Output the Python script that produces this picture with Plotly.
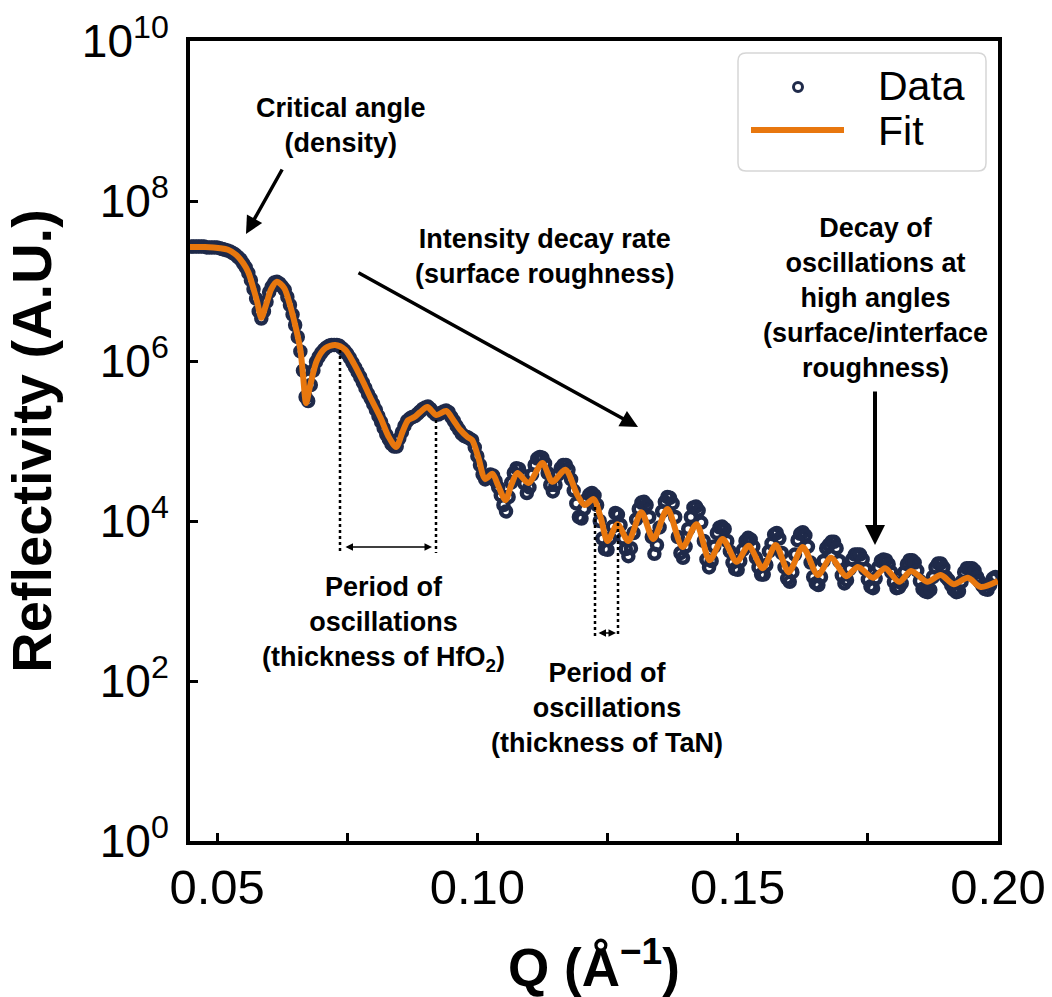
import plotly.graph_objects as go

# ---------------- data ----------------
data_q = [
    0.0450, 0.0455, 0.0460, 0.0465, 0.0470, 0.0475, 0.0480, 0.0485, 0.0490, 0.0495,
    0.0500, 0.0505, 0.0510, 0.0515, 0.0520, 0.0525, 0.0530, 0.0535, 0.0540, 0.0545,
    0.0550, 0.0555, 0.0560, 0.0565, 0.0570, 0.0575, 0.0580, 0.0585, 0.0590, 0.0595,
    0.0600, 0.0605, 0.0610, 0.0615, 0.0620, 0.0625, 0.0630, 0.0635, 0.0640, 0.0645,
    0.0650, 0.0655, 0.0660, 0.0665, 0.0670, 0.0675, 0.0680, 0.0685, 0.0690, 0.0695,
    0.0700, 0.0705, 0.0710, 0.0715, 0.0720, 0.0725, 0.0730, 0.0735, 0.0740, 0.0745,
    0.0750, 0.0755, 0.0760, 0.0765, 0.0770, 0.0775, 0.0780, 0.0785, 0.0790, 0.0795,
    0.0800, 0.0805, 0.0810, 0.0815, 0.0820, 0.0825, 0.0830, 0.0835, 0.0840, 0.0845,
    0.0850, 0.0855, 0.0860, 0.0865, 0.0870, 0.0875, 0.0880, 0.0885, 0.0890, 0.0895,
    0.0900, 0.0905, 0.0910, 0.0915, 0.0920, 0.0925, 0.0930, 0.0935, 0.0940, 0.0945,
    0.0950, 0.0955, 0.0960, 0.0965, 0.0970, 0.0975, 0.0980, 0.0985, 0.0990, 0.0995,
    0.1000, 0.1005, 0.1010, 0.1015, 0.1020, 0.1025, 0.1030, 0.1035, 0.1040, 0.1045,
    0.1050, 0.1055, 0.1060, 0.1065, 0.1070, 0.1075, 0.1080, 0.1085, 0.1090, 0.1095,
    0.1100, 0.1105, 0.1110, 0.1115, 0.1120, 0.1125, 0.1130, 0.1135, 0.1140, 0.1145,
    0.1150, 0.1155, 0.1160, 0.1165, 0.1170, 0.1175, 0.1180, 0.1185, 0.1190, 0.1195,
    0.1200, 0.1205, 0.1210, 0.1215, 0.1220, 0.1225, 0.1230, 0.1235, 0.1240, 0.1245,
    0.1250, 0.1255, 0.1260, 0.1265, 0.1270, 0.1275, 0.1280, 0.1285, 0.1290, 0.1295,
    0.1300, 0.1305, 0.1310, 0.1315, 0.1320, 0.1325, 0.1330, 0.1335, 0.1340, 0.1345,
    0.1350, 0.1355, 0.1360, 0.1365, 0.1370, 0.1375, 0.1380, 0.1385, 0.1390, 0.1395,
    0.1400, 0.1405, 0.1410, 0.1415, 0.1420, 0.1425, 0.1430, 0.1435, 0.1440, 0.1445,
    0.1450, 0.1455, 0.1460, 0.1465, 0.1470, 0.1475, 0.1480, 0.1485, 0.1490, 0.1495,
    0.1500, 0.1505, 0.1510, 0.1515, 0.1520, 0.1525, 0.1530, 0.1535, 0.1540, 0.1545,
    0.1550, 0.1555, 0.1560, 0.1565, 0.1570, 0.1575, 0.1580, 0.1585, 0.1590, 0.1595,
    0.1600, 0.1605, 0.1610, 0.1615, 0.1620, 0.1625, 0.1630, 0.1635, 0.1640, 0.1645,
    0.1650, 0.1655, 0.1660, 0.1665, 0.1670, 0.1675, 0.1680, 0.1685, 0.1690, 0.1695,
    0.1700, 0.1705, 0.1710, 0.1715, 0.1720, 0.1725, 0.1730, 0.1735, 0.1740, 0.1745,
    0.1750, 0.1755, 0.1760, 0.1765, 0.1770, 0.1775, 0.1780, 0.1785, 0.1790, 0.1795,
    0.1800, 0.1805, 0.1810, 0.1815, 0.1820, 0.1825, 0.1830, 0.1835, 0.1840, 0.1845,
    0.1850, 0.1855, 0.1860, 0.1865, 0.1870, 0.1875, 0.1880, 0.1885, 0.1890, 0.1895,
    0.1900, 0.1905, 0.1910, 0.1915, 0.1920, 0.1925, 0.1930, 0.1935, 0.1940, 0.1945,
    0.1950, 0.1955, 0.1960, 0.1965, 0.1970, 0.1975, 0.1980, 0.1985, 0.1990, 0.1995,
]

# log10 of measured reflectivity
data_log_r = [
    7.43, 7.43, 7.43, 7.43, 7.43, 7.43, 7.42, 7.42, 7.42, 7.42,
    7.42, 7.41, 7.40, 7.39, 7.38, 7.37, 7.35, 7.33, 7.30, 7.27,
    7.22, 7.17, 7.10, 7.01, 6.90, 6.78, 6.62, 6.53, 6.62, 6.74,
    6.86, 6.93, 6.98, 6.99, 6.97, 6.93, 6.89, 6.80, 6.70, 6.58,
    6.45, 6.30, 6.12, 5.88, 5.55, 5.50, 5.70, 5.88, 5.99, 6.05,
    6.10, 6.14, 6.17, 6.19, 6.20, 6.20, 6.20, 6.19, 6.16, 6.13,
    6.09, 6.04, 5.98, 5.92, 5.86, 5.80, 5.73, 5.66, 5.59, 5.53,
    5.46, 5.39, 5.31, 5.24, 5.16, 5.08, 5.02, 4.96, 4.93, 4.93,
    5.03, 5.11, 5.19, 5.25, 5.28, 5.30, 5.31, 5.34, 5.37, 5.40,
    5.42, 5.43, 5.40, 5.36, 5.33, 5.33, 5.35, 5.37, 5.38, 5.36,
    5.30, 5.25, 5.19, 5.14, 5.09, 5.06, 5.05, 5.03, 5.01, 4.92,
    4.81, 4.70, 4.58, 4.52, 4.56, 4.58, 4.57, 4.50, 4.42, 4.32,
    4.20, 4.12, 4.30, 4.48, 4.60, 4.66, 4.65, 4.58, 4.47, 4.35,
    4.42, 4.58, 4.70, 4.78, 4.80, 4.79, 4.72, 4.60, 4.45, 4.37,
    4.45, 4.58, 4.66, 4.70, 4.70, 4.64, 4.52, 4.38, 4.22, 4.05,
    4.03, 4.15, 4.27, 4.33, 4.35, 4.32, 4.20, 4.00, 3.78, 3.65,
    3.64, 3.78, 3.93, 4.10, 4.08, 3.95, 3.78, 3.65, 3.56, 3.66,
    3.85, 4.02, 4.15, 4.23, 4.24, 4.20, 4.05, 3.80, 3.59, 3.70,
    3.92, 4.12, 4.24, 4.30, 4.29, 4.22, 4.05, 3.80, 3.60, 3.54,
    3.68, 3.90, 4.05, 4.17, 4.18, 4.13, 3.98, 3.75, 3.52, 3.42,
    3.50, 3.68, 3.85, 3.92, 3.93, 3.90, 3.75, 3.62, 3.48, 3.40,
    3.39, 3.50, 3.64, 3.75, 3.79, 3.77, 3.68, 3.54, 3.42, 3.33,
    3.33, 3.45, 3.62, 3.72, 3.83, 3.85, 3.78, 3.60, 3.42, 3.28,
    3.24, 3.36, 3.58, 3.76, 3.84, 3.86, 3.82, 3.68, 3.48, 3.30,
    3.22, 3.20, 3.30, 3.50, 3.66, 3.70, 3.74, 3.74, 3.66, 3.50,
    3.32, 3.22, 3.26, 3.40, 3.52, 3.58, 3.58, 3.58, 3.52, 3.40,
    3.27, 3.18, 3.16, 3.28, 3.42, 3.50, 3.52, 3.51, 3.46, 3.36,
    3.24, 3.16, 3.17, 3.22, 3.36, 3.46, 3.51, 3.51, 3.48, 3.38,
    3.25, 3.15, 3.12, 3.11, 3.14, 3.30, 3.42, 3.47, 3.47, 3.42,
    3.30, 3.26, 3.20, 3.14, 3.11, 3.12, 3.24, 3.36, 3.41, 3.41,
    3.41, 3.38, 3.30, 3.24, 3.19, 3.15, 3.14, 3.20, 3.28, 3.30,
]

fit_q = [
    0.0448, 0.0477, 0.0506, 0.0521, 0.0537, 0.0550, 0.0560, 0.0569, 0.0577, 0.0585,
    0.0594, 0.0604, 0.0615, 0.0629, 0.0640, 0.0650, 0.0660, 0.0665, 0.0671, 0.0679,
    0.0692, 0.0708, 0.0727, 0.0746, 0.0762, 0.0779, 0.0794, 0.0814, 0.0829, 0.0844,
    0.0856, 0.0867, 0.0879, 0.0890, 0.0904, 0.0921, 0.0940, 0.0954, 0.0967, 0.0981,
    0.0990, 0.1002, 0.1015, 0.1029, 0.1040, 0.1054, 0.1065, 0.1077, 0.1098, 0.1125,
    0.1144, 0.1169, 0.1192, 0.1206, 0.1223, 0.1237, 0.1250, 0.1269, 0.1290, 0.1315,
    0.1338, 0.1365, 0.1394, 0.1421, 0.1446, 0.1471, 0.1498, 0.1521, 0.1548, 0.1573,
    0.1598, 0.1625, 0.1654, 0.1679, 0.1708, 0.1731, 0.1760, 0.1783, 0.1810, 0.1833,
    0.1864, 0.1890, 0.1915, 0.1942, 0.1967, 0.2000,
]
fit_log_r = [
    7.425, 7.425, 7.41, 7.39, 7.325, 7.225, 7.11, 6.925, 6.74, 6.54,
    6.70, 6.90, 6.99, 6.91, 6.70, 6.45, 6.14, 5.83, 5.475, 5.70,
    6.01, 6.16, 6.20, 6.14, 5.975, 5.76, 5.55, 5.29, 5.06, 4.925,
    5.11, 5.26, 5.30, 5.36, 5.425, 5.325, 5.375, 5.26, 5.14, 5.05,
    5.01, 4.79, 4.525, 4.59, 4.44, 4.26, 4.45, 4.60, 4.475, 4.725,
    4.49, 4.64, 4.325, 4.20, 4.275, 4.04, 3.75, 3.96, 3.75, 4.11,
    3.775, 4.15, 3.675, 3.96, 3.51, 3.775, 3.49, 3.69, 3.41, 3.70,
    3.36, 3.675, 3.325, 3.54, 3.31, 3.425, 3.29, 3.41, 3.24, 3.375,
    3.24, 3.325, 3.21, 3.29, 3.175, 3.25,
]

y_tick_vals = [1e0, 1e2, 1e4, 1e6, 1e8, 1e10]
y_tick_text = ["10<sup>0</sup>", "10<sup>2</sup>", "10<sup>4</sup>",
               "10<sup>6</sup>", "10<sup>8</sup>", "10<sup>10</sup>"]
x_tick_vals = [0.05, 0.10, 0.15, 0.20]
x_tick_text = ["0.05", "0.10", "0.15", "0.20"]

assert len(data_q) == len(data_log_r)
assert len(fit_q) == len(fit_log_r)

data_r = [10 ** v for v in data_log_r]
fit_r = [10 ** v for v in fit_log_r]

NAVY = "#1F2A4A"
ORANGE = "#E8770E"
FONT = "Liberation Sans, Arial, sans-serif"

# ---------------- figure ----------------
W, H = 1052, 997
L, R, T, B = 190, 54, 41, 156
PW, PH = W - L - R, H - T - B


def px(x):
    return (x - L) / PW


def py(y):
    return (H - B - y) / PH


fig = go.Figure()
fig.add_trace(go.Scatter(
    x=data_q, y=data_r, mode="markers", name="Data",
    marker=dict(symbol="circle-open", size=10, color=NAVY,
                line=dict(width=4.5, color=NAVY)),
))
fig.add_trace(go.Scatter(
    x=fit_q, y=fit_r, mode="lines", name="Fit",
    line=dict(color=ORANGE, width=6, shape="spline", smoothing=0.8),
))

shapes = []
annotations = []

# dotted guide lines
for (x, y0, y1) in [(340, 350, 553), (436, 420, 553), (595, 507, 637), (618, 523, 637)]:
    shapes.append(dict(type="line", xref="paper", yref="paper",
                       x0=px(x), x1=px(x), y0=py(y0), y1=py(y1),
                       line=dict(color="black", width=2.5, dash="dot")))

# manual legend
lx0, lx1, ly_top, ly_bot = px(738), px(986), py(53), py(171)
rx, ry = 8 / PW, 8 / PH
path = (f"M {lx0+rx},{ly_top} L {lx1-rx},{ly_top} Q {lx1},{ly_top} {lx1},{ly_top-ry} "
        f"L {lx1},{ly_bot+ry} Q {lx1},{ly_bot} {lx1-rx},{ly_bot} "
        f"L {lx0+rx},{ly_bot} Q {lx0},{ly_bot} {lx0},{ly_bot+ry} "
        f"L {lx0},{ly_top-ry} Q {lx0},{ly_top} {lx0+rx},{ly_top} Z")
shapes.append(dict(type="path", xref="paper", yref="paper", path=path,
                   line=dict(color="#D6D6D6", width=1.5), fillcolor="white"))
shapes.append(dict(type="circle", xref="paper", yref="paper",
                   x0=px(793.5), x1=px(802.5), y0=py(91.5), y1=py(82.5),
                   line=dict(color=NAVY, width=3)))
shapes.append(dict(type="line", xref="paper", yref="paper",
                   x0=px(751), x1=px(844), y0=py(130), y1=py(130),
                   line=dict(color=ORANGE, width=6)))
for txt, y in [("Data", 86), ("Fit", 131)]:
    annotations.append(dict(text=txt, xref="paper", yref="paper", x=px(876), y=py(y),
                            xanchor="left", yanchor="middle", showarrow=False,
                            font=dict(family=FONT, size=41, color="black")))

# text annotations
afont = dict(family=FONT, size=27, color="black")
for txt, x, y in [
    ("<b>Critical angle<br>(density)</b>", 341, 125.5),
    ("<b>Intensity decay rate<br>(surface roughness)</b>", 545, 256),
    ("<b>Decay of<br>oscillations at<br>high angles<br>(surface/interface<br>roughness)</b>", 875, 297.5),
    ("<b>Period of<br>oscillations<br>(thickness of HfO<sub>2</sub>)</b>", 383, 624),
    ("<b>Period of<br>oscillations<br>(thickness of TaN)</b>", 607, 708),
]:
    annotations.append(dict(text=txt, xref="paper", yref="paper", x=px(x), y=py(y),
                            xanchor="center", yanchor="middle", showarrow=False,
                            align="center", font=afont))

# arrows (tail given as pixel offset from head)
for (tx, ty, hx, hy, w) in [(283, 168, 246, 234, 3.5), (357, 272, 638, 427, 3.5),
                            (875, 390, 875, 545, 4)]:
    annotations.append(dict(text="", xref="paper", yref="paper", axref="pixel", ayref="pixel",
                            x=px(hx), y=py(hy), ax=tx - hx, ay=ty - hy, showarrow=True,
                            arrowhead=2, arrowsize=1, arrowwidth=w, arrowcolor="black"))
for (x0, x1, y) in [(344, 432, 547), (597, 616, 633)]:
    annotations.append(dict(text="", xref="paper", yref="paper", axref="pixel", ayref="pixel",
                            x=px(x1), y=py(y), ax=x0 - x1, ay=0, showarrow=True,
                            arrowhead=2, startarrowhead=2, arrowside="end+start",
                            arrowsize=1, startarrowsize=1, arrowwidth=1.5, arrowcolor="black"))

fig.update_layout(
    width=W, height=H,
    margin=dict(l=L, r=R, t=T, b=B, autoexpand=False),
    paper_bgcolor="white", plot_bgcolor="white",
    showlegend=False,
    font=dict(family=FONT, color="black"),
    shapes=shapes, annotations=annotations,
)
fig.update_xaxes(
    range=[0.0448, 0.2], showgrid=False, zeroline=False,
    showline=True, linecolor="black", linewidth=4, mirror=True,
    ticks="inside", ticklen=8, tickwidth=2.5, tickcolor="black",
    tickvals=x_tick_vals, ticktext=x_tick_text,
    minor=dict(tick0=0.05, dtick=0.025, ticks="inside", ticklen=8, tickwidth=2.5,
               tickcolor="black", showgrid=False),
    tickfont=dict(family=FONT, size=49, color="black"),
    title=dict(text="<b>Q (Å<sup>−1</sup>)</b>", font=dict(family=FONT, size=53, color="black"),
               standoff=55),
    automargin=False,
)
fig.update_yaxes(
    type="log", range=[0, 10], showgrid=False, zeroline=False,
    showline=True, linecolor="black", linewidth=4, mirror=True,
    ticks="inside", ticklen=8, tickwidth=2.5, tickcolor="black",
    tickvals=y_tick_vals, ticktext=y_tick_text,
    tickfont=dict(family=FONT, size=46, color="black"),
    ticklabelstandoff=8,
    title=dict(text="<b>Reflectivity (A.U.)</b>", font=dict(family=FONT, size=56, color="black"),
               standoff=20),
    automargin=False,
)

fig.write_html("out.html")
